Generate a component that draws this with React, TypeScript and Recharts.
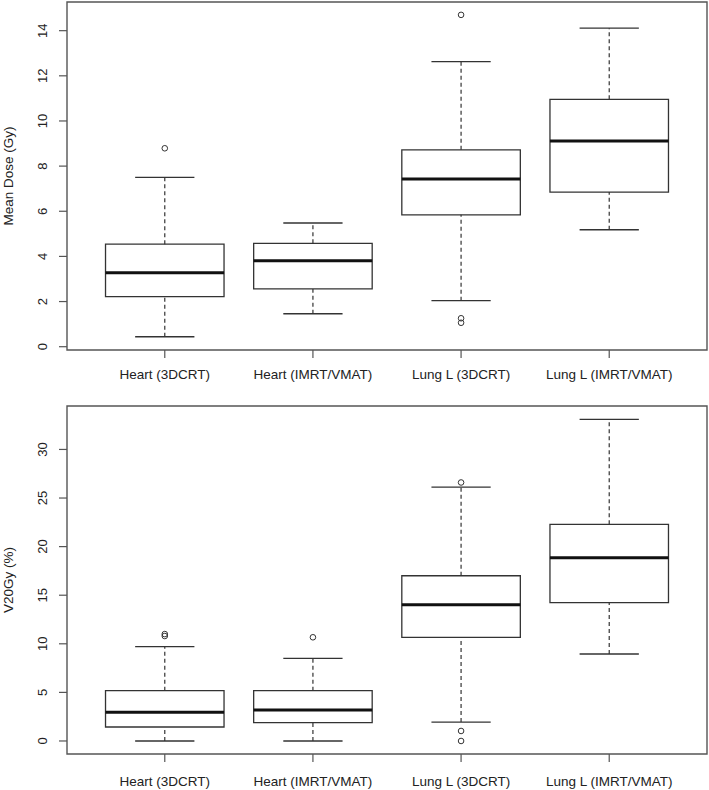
import React from 'react';
import {
  ComposedChart,
  XAxis,
  YAxis,
  Scatter,
  ReferenceArea,
  ReferenceLine,
} from 'recharts';

// ---- Data ----
const categories = ['Heart (3DCRT)', 'Heart (IMRT/VMAT)', 'Lung L (3DCRT)', 'Lung L (IMRT/VMAT)'];

const meanDoseLow = [0.44, 1.46, 2.04, 5.18];
const meanDoseQ1 = [2.22, 2.56, 5.84, 6.85];
const meanDoseMedian = [3.28, 3.81, 7.43, 9.11];
const meanDoseQ3 = [4.54, 4.58, 8.72, 10.96];
const meanDoseHigh = [7.5, 5.48, 12.63, 14.11];
const meanDoseOutliers = [[8.79], [], [14.7, 1.26, 1.06], []];
const meanDoseTicks = [0, 2, 4, 6, 8, 10, 12, 14];

const v20Low = [0, 0, 1.95, 8.95];
const v20Q1 = [1.44, 1.89, 10.67, 14.23];
const v20Median = [2.95, 3.19, 14.02, 18.86];
const v20Q3 = [5.18, 5.18, 17.0, 22.29];
const v20High = [9.7, 8.5, 26.13, 33.1];
const v20Outliers = [[11.0, 10.8], [10.67], [26.6, 1.03, 0], []];
const v20Ticks = [0, 5, 10, 15, 20, 25, 30];

// ---- Styles / layout constants ----
const FONT = '"Liberation Sans", Arial, sans-serif';
const TEXT = '#222';
const LINE = '#333';
const FRAME = '#555';
const BOX_HALF = 0.4; // R boxwex 0.8
const CAP_HALF = 0.2; // R staplewex 0.5
const X_DOMAIN: [number, number] = [0.34, 4.66];

const YTick = (props: any) => {
  const { x, y, payload } = props;
  return (
    <text
      x={x}
      y={y}
      transform={`rotate(-90, ${x}, ${y})`}
      textAnchor="middle"
      fontSize={13}
      fontFamily={FONT}
      fill={TEXT}
    >
      {payload.value}
    </text>
  );
};

const XTick = (props: any) => {
  const { x, y, payload } = props;
  return (
    <text x={x} y={y} dy="0.71em" textAnchor="middle" fontSize={13.5} fontFamily={FONT} fill={TEXT}>
      {categories[payload.value - 1]}
    </text>
  );
};

interface PanelProps {
  height: number;
  marginTop: number;
  xAxisHeight: number;
  xTickMargin: number;
  yDomain: [number, number];
  yTicks: number[];
  title: string;
  low: number[];
  q1: number[];
  median: number[];
  q3: number[];
  high: number[];
  outliers: number[][];
}

function BoxPanel(p: PanelProps) {
  const outlierPoints: { x: number; y: number }[] = [];
  p.outliers.forEach((arr, i) => arr.forEach((v) => outlierPoints.push({ x: i + 1, y: v })));

  const renderTitle = (lp: any) => {
    const vb = lp.viewBox || { x: 0, y: 0, width: 67, height: 348 };
    const tx = vb.x + 13;
    const ty = vb.y + vb.height / 2;
    return (
      <text
        x={tx}
        y={ty}
        transform={`rotate(-90, ${tx}, ${ty})`}
        textAnchor="middle"
        fontSize={13.5}
        fontFamily={FONT}
        fill={TEXT}
      >
        {p.title}
      </text>
    );
  };

  return (
    <ComposedChart
      width={709}
      height={p.height}
      margin={{ top: p.marginTop, right: 2, bottom: 0, left: 0 }}
    >
      <XAxis
        type="number"
        dataKey="x"
        domain={X_DOMAIN}
        allowDataOverflow
        ticks={[1, 2, 3, 4]}
        tick={<XTick />}
        tickSize={8}
        tickMargin={p.xTickMargin}
        tickLine={{ stroke: FRAME, strokeWidth: 1.2 }}
        axisLine={false}
        height={p.xAxisHeight}
        interval={0}
      />
      <YAxis
        type="number"
        dataKey="y"
        domain={p.yDomain}
        allowDataOverflow
        ticks={p.yTicks}
        tick={<YTick />}
        tickSize={8}
        tickMargin={12}
        tickLine={{ stroke: FRAME, strokeWidth: 1.2 }}
        axisLine={false}
        width={67}
        interval={0}
        label={{ content: renderTitle }}
      />
      <ReferenceArea
        x1={X_DOMAIN[0]}
        x2={X_DOMAIN[1]}
        y1={p.yDomain[0]}
        y2={p.yDomain[1]}
        fill="none"
        fillOpacity={0}
        stroke={FRAME}
        strokeWidth={1.4}
        ifOverflow="visible"
      />
      {categories.map((_, i) => {
        const c = i + 1;
        return (
          <React.Fragment key={i}>
            <ReferenceLine
              segment={[{ x: c, y: p.q3[i] }, { x: c, y: p.high[i] }]}
              stroke={LINE}
              strokeWidth={1.2}
              strokeDasharray="4 3"
              ifOverflow="visible"
            />
            <ReferenceLine
              segment={[{ x: c, y: p.low[i] }, { x: c, y: p.q1[i] }]}
              stroke={LINE}
              strokeWidth={1.2}
              strokeDasharray="4 3"
              ifOverflow="visible"
            />
            <ReferenceLine
              segment={[{ x: c - CAP_HALF, y: p.high[i] }, { x: c + CAP_HALF, y: p.high[i] }]}
              stroke={LINE}
              strokeWidth={1.3}
              ifOverflow="visible"
            />
            <ReferenceLine
              segment={[{ x: c - CAP_HALF, y: p.low[i] }, { x: c + CAP_HALF, y: p.low[i] }]}
              stroke={LINE}
              strokeWidth={1.3}
              ifOverflow="visible"
            />
            <ReferenceArea
              x1={c - BOX_HALF}
              x2={c + BOX_HALF}
              y1={p.q1[i]}
              y2={p.q3[i]}
              fill="#ffffff"
              fillOpacity={1}
              stroke={LINE}
              strokeWidth={1.3}
              ifOverflow="visible"
            />
            <ReferenceLine
              segment={[{ x: c - BOX_HALF, y: p.median[i] }, { x: c + BOX_HALF, y: p.median[i] }]}
              stroke="#111"
              strokeWidth={3}
              ifOverflow="visible"
            />
          </React.Fragment>
        );
      })}
      <Scatter
        data={outlierPoints}
        isAnimationActive={false}
        fill="none"
        shape={(sp: any) => (
          <circle cx={sp.cx} cy={sp.cy} r={2.8} fill="none" stroke={LINE} strokeWidth={1} />
        )}
      />
    </ComposedChart>
  );
}

export default function App() {
  return (
    <div style={{ position: 'absolute', left: 0, top: 0, width: 709, height: 790, background: '#fff' }}>
      <BoxPanel
        height={390}
        marginTop={2}
        xAxisHeight={40}
        xTickMargin={11}
        yDomain={[-0.146, 15.27]}
        yTicks={meanDoseTicks}
        title="Mean Dose (Gy)"
        low={meanDoseLow}
        q1={meanDoseQ1}
        median={meanDoseMedian}
        q3={meanDoseQ3}
        high={meanDoseHigh}
        outliers={meanDoseOutliers}
      />
      <BoxPanel
        height={400}
        marginTop={16}
        xAxisHeight={36}
        xTickMargin={14}
        yDomain={[-1.34, 34.47]}
        yTicks={v20Ticks}
        title="V20Gy (%)"
        low={v20Low}
        q1={v20Q1}
        median={v20Median}
        q3={v20Q3}
        high={v20High}
        outliers={v20Outliers}
      />
    </div>
  );
}
